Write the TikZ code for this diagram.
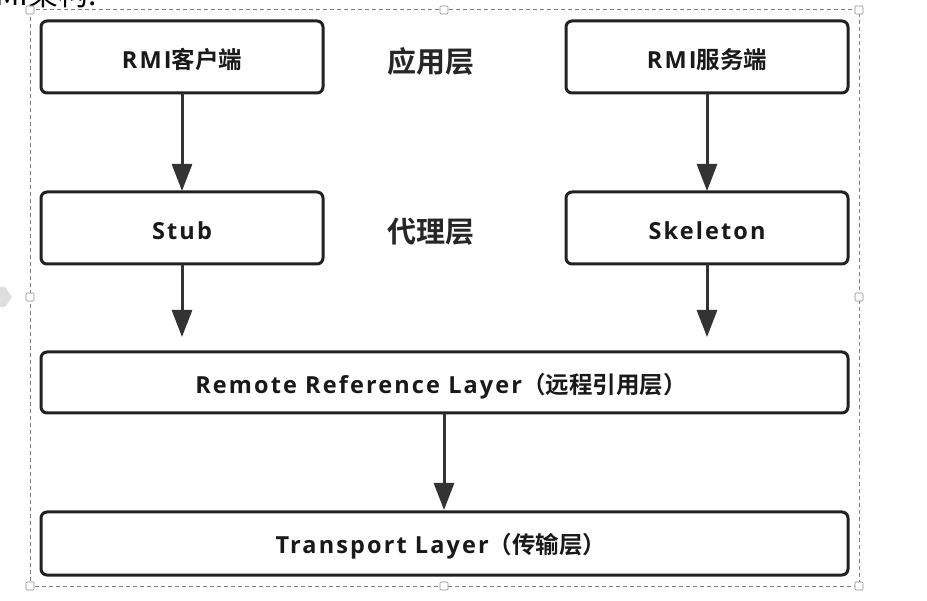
\documentclass[tikz,border=0pt]{standalone}
\usepackage{fontspec}
\setmainfont{Noto Sans CJK SC}[BoldFont={* Bold}]
\newfontfamily\latin{Open Sans}[BoldFont={* Bold},LetterSpace=9]
\usetikzlibrary{arrows.meta}
\newcommand{\lt}[1]{{\latin\bfseries #1}}

\begin{document}
\begin{tikzpicture}[x=1pt,y=-1pt,>={Triangle[length=27pt,width=20pt]},
  layerbox/.style={draw=black!87,line width=3pt,rounded corners=6pt,fill=white},
  layertext/.style={font=\fontsize{23.5}{26}\selectfont\bfseries,text=black!90},
  sidetext/.style={font=\fontsize{29}{32}\selectfont\bfseries,text=black!85},
  flow/.style={->,draw=black!80,line width=3pt},
  handle/.style={draw=black!45,fill=white,line width=0.6pt,rounded corners=1pt}]
  \useasboundingbox (0,0) rectangle (927,601);
  % cut off caption above
  \node[anchor=base east,font=\fontsize{30}{32}\selectfont,inner sep=0pt] (caption) at (97,6) {RMI架构:};
  % selection frame
  \draw[dashed,black!50,line width=1pt,dash pattern=on 4pt off 3pt] (30,10) rectangle (859,586);
  \fill[black!13] (0,287) -- (5,287) -- (12,297) -- (5,307) -- (0,307) -- cycle;
  % layers
  \path[layerbox] (41,21) rectangle (323,93);
  \path[layerbox] (566,21) rectangle (848,93);
  \path[layerbox] (41,192) rectangle (323,264);
  \path[layerbox] (566,192) rectangle (848,264);
  \path[layerbox] (41,352) rectangle (848,413);
  \path[layerbox] (41,512) rectangle (848,575);
  \node[layertext] (client) at (182,60) {\lt{RMI}客户端};
  \node[layertext] (server) at (707,60) {\lt{RMI}服务端};
  \node[layertext] (stub) at (182,231) {\lt{Stub}};
  \node[layertext] (skel) at (707,231) {\lt{Skeleton}};
  \node[layertext] (rrl) at (441,386) {\lt{Remote Reference Layer}（远程引用层）};
  \node[layertext] (tl) at (441,546) {\lt{Transport Layer}（传输层）};
  \node[sidetext] (app) at (431,61) {应用层};
  \node[sidetext] (proxy) at (431,232) {代理层};
  % arrows
  \coordinate (c1) at (182,93);   \coordinate (c2) at (182,191);
  \coordinate (c3) at (182,264);  \coordinate (c4) at (182,337);
  \coordinate (s1) at (707,93);   \coordinate (s2) at (707,191);
  \coordinate (s3) at (707,264);  \coordinate (s4) at (707,337);
  \coordinate (r1) at (444,413);  \coordinate (r2) at (444,510);
  \draw[flow] (c1) -- (c2);
  \draw[flow] (c3) -- (c4);
  \draw[flow] (s1) -- (s2);
  \draw[flow] (s3) -- (s4);
  \draw[flow] (r1) -- (r2);
  % handles
  \foreach \hx/\hy in {30/10,444/10,859/10,30/297,859/297,30/586,444/586,859/586}
    \path[handle] (\hx-4,\hy-4) rectangle (\hx+4,\hy+4);
\end{tikzpicture}
\end{document}
